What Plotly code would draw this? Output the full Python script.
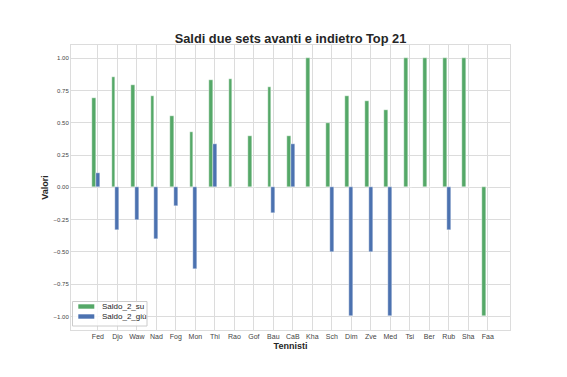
import plotly.graph_objects as go

tennisti = ["Fed", "Djo", "Waw", "Nad", "Fog", "Mon", "Thi", "Rao", "Gof", "Bau", "CaB",
            "Kha", "Sch", "Dim", "Zve", "Med", "Tsi", "Ber", "Rub", "Sha", "Faa"]
saldo_su = [0.69, 0.857, 0.79, 0.71, 0.55, 0.4286, 0.833, 0.842, 0.40, 0.778, 0.40,
            1.0, 0.50, 0.71, 0.667, 0.60, 1.0, 1.0, 1.0, 1.0, -1.0]
saldo_giu = [0.11, -0.333, -0.25, -0.40, -0.143, -0.636, 0.333, 0.0, 0.0, -0.20, 0.333,
             0.0, -0.50, -1.0, -0.50, -1.0, 0.0, 0.0, -0.333, 0.0, 0.0]
y_ticks = [-1.0, -0.75, -0.5, -0.25, 0.0, 0.25, 0.5, 0.75, 1.0]
series_names = ["Saldo_2_su", "Saldo_2_giù"]

FONT = "Liberation Sans, Arial, sans-serif"
GREEN = "#55a868"
BLUE = "#4c72b0"
GRID = "#dcdcdc"

W, H = 567, 377
L, R, T, B = 71, 57, 45, 47
PW, PH = W - L - R, H - T - B


def px(x):
    return (x - L) / PW


def py(y):
    return (H - B - y) / PH


fig = go.Figure()
fig.add_trace(go.Bar(x=tennisti, y=saldo_su, name=series_names[0], width=0.2, offset=-0.3,
                     marker=dict(color=GREEN, line=dict(color="white", width=0.4))))
fig.add_trace(go.Bar(x=tennisti, y=saldo_giu, name=series_names[1], width=0.2, offset=-0.1,
                     marker=dict(color=BLUE, line=dict(color="white", width=0.4))))

# custom matplotlib-like legend
shapes = [dict(type="rect", xref="paper", yref="paper",
               x0=px(72.5), x1=px(147), y0=py(326), y1=py(301.5),
               line=dict(color="#cccccc", width=1), fillcolor="rgba(255,255,255,0.85)",
               layer="above")]
annotations = []
for i, (name, col) in enumerate(zip(series_names, [GREEN, BLUE])):
    yc = 306.5 + 10 * i
    shapes.append(dict(type="rect", xref="paper", yref="paper",
                       x0=px(78.3), x1=px(94.3), y0=py(yc + 2.2), y1=py(yc - 2.2),
                       line=dict(width=0), fillcolor=col, layer="above"))
    annotations.append(dict(text=name, xref="paper", yref="paper", x=px(100), y=py(yc),
                            xanchor="left", yanchor="middle", showarrow=False,
                            font=dict(size=8, color="#262626", family=FONT)))

fig.update_layout(
    width=W, height=H,
    margin=dict(l=L, r=R, t=T, b=B),
    paper_bgcolor="white", plot_bgcolor="white",
    font=dict(family=FONT, color="#333333"),
    title=dict(text="<b>Saldi due sets avanti e indietro Top 21</b>",
               x=0.5, xanchor="center", xref="paper", y=1 - 38.5 / H, yref="container",
               yanchor="middle", font=dict(size=12.8, color="#262626")),
    showlegend=False,
    shapes=shapes,
    annotations=annotations,
    bargap=0,
)
fig.update_xaxes(type="category", range=[-1.38, 21.14],
                 showgrid=True, gridcolor=GRID, gridwidth=1,
                 showline=True, linecolor=GRID, mirror=True, linewidth=1,
                 ticks="", tickfont=dict(size=7, color="#444444"), tickangle=0,
                 title=dict(text="<b>Tennisti</b>", font=dict(size=9, color="#262626"), standoff=2),
                 zeroline=False)
fig.update_yaxes(range=[-1.105, 1.103], tickvals=y_ticks, tickformat=".2f",
                 showgrid=True, gridcolor=GRID, gridwidth=1,
                 showline=True, linecolor=GRID, mirror=True, linewidth=1,
                 ticks="", ticklen=0, tickfont=dict(size=6, color="#444444"),
                 title=dict(text="<b>Valori</b>", font=dict(size=9, color="#262626"), standoff=3),
                 zeroline=False)

fig.write_html("out.html")
